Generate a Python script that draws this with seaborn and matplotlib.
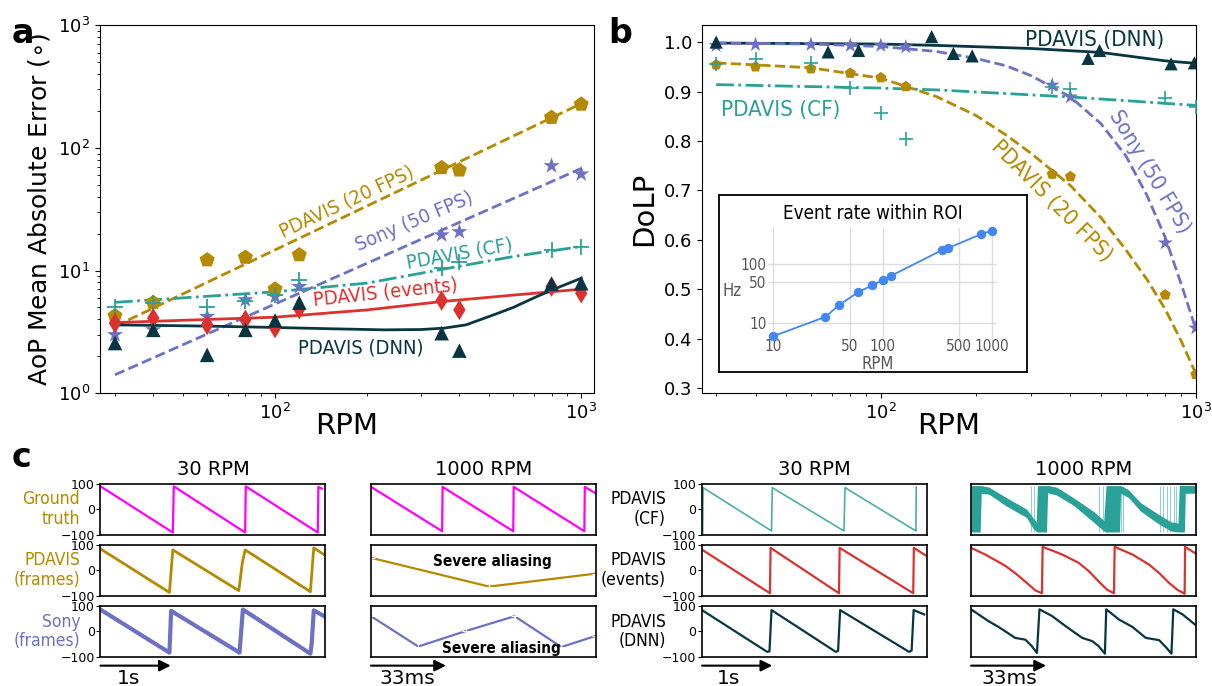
import matplotlib
matplotlib.use("Agg")
import matplotlib.pyplot as plt
from matplotlib.ticker import NullLocator, FixedLocator, FixedFormatter
import seaborn as sns

plt.rcParams['font.family'] = ['DejaVu Sans']

GOLD = "#b58900"
VIOLET = "#6c71c4"
CYAN = "#2aa198"
RED = "#dc322f"
DARK = "#073642"
MAGENTA = "#ff00ff"
BLUE = "#4287f5"

# ---------------- panel a : AoP mean absolute error
rpm = [30, 40, 60, 80, 100, 120, 350, 400, 800, 1000]
aop_frames = [4.27, 5.47, 12.2, 12.8, 7.04, 13.4, 68.9, 65.9, 177, 227]
aop_sony = [2.99, 3.28, 4.21, 5.76, 6.13, 7.39, 19.5, 20.7, 71.5, 61.2]
aop_cf = [5.02, 5.4, 5.08, 5.69, 6.3, 8.38, 10.4, 11.8, 14.7, 15.7]
aop_events = [3.72, 4.09, 3.6, 3.96, 3.39, 4.84, 5.69, 4.77, 7.39, 6.53]
aop_dnn = [2.56, 3.28, 2.05, 3.28, 3.91, 5.47, 3.08, 2.22, 7.78, 7.87]

# fitted curves
fit_a_frames_rpm = [30, 1000]
fit_a_frames = [3.5, 230]
fit_a_sony_rpm = [30, 1000]
fit_a_sony = [1.41, 68]
fit_a_cf_rpm = [30, 100, 200, 350, 600, 1000]
fit_a_cf = [5.5, 6.7, 7.9, 10.2, 13.0, 15.7]
fit_a_ev_rpm = [30, 100, 200, 350, 600, 1000]
fit_a_ev = [3.76, 4.16, 4.77, 5.58, 6.3, 7.04]
fit_a_dnn_rpm = [30, 60, 100, 150, 228, 300, 357, 420, 518, 600, 716, 850, 1000]
fit_a_dnn = [3.6, 3.52, 3.43, 3.35, 3.28, 3.3, 3.39, 3.6, 4.35, 5.0, 6.13, 7.35, 8.65]

# ---------------- panel b : DoLP
dolp_frames = [0.954, 0.95, 0.946, 0.937, 0.928, 0.91, 0.733, 0.728, 0.489, 0.328]
dolp_sony = [0.993, 0.995, 0.995, 0.993, 0.993, 0.99, 0.913, 0.889, 0.594, 0.422]
dolp_cf = [0.956, 0.966, 0.958, 0.908, 0.857, 0.805, 0.91, 0.905, 0.887, 0.869]
dnn_rpm = [30, 68, 85, 145, 170, 195, 455, 495, 835, 990]
dolp_dnn = [1.0, 0.98, 0.983, 1.011, 0.977, 0.972, 0.967, 0.983, 0.956, 0.958]

fit_b_rpm = [30, 60, 100, 150, 200, 250, 300, 400, 500, 600, 700, 800, 900, 1000]
fit_b_sony = [0.998, 0.996, 0.991, 0.981, 0.967, 0.952, 0.932, 0.889, 0.835, 0.77, 0.69, 0.605, 0.51, 0.42]
fit_b_frames = [0.958, 0.948, 0.927, 0.89, 0.852, 0.812, 0.775, 0.71, 0.645, 0.58, 0.52, 0.46, 0.395, 0.33]
fit_b_cf_rpm = [30, 100, 154, 400, 1000]
fit_b_cf = [0.914, 0.907, 0.903, 0.889, 0.872]
fit_b_dnn_rpm = [30, 100, 154, 300, 500, 800, 1000]
fit_b_dnn = [0.998, 0.996, 0.993, 0.987, 0.979, 0.962, 0.957]

# inset : event rate
inset_rpm = [10, 30, 40, 60, 80, 100, 120, 350, 400, 800, 1000]
inset_rate = [5.9, 12.6, 20, 33.3, 43.3, 53.3, 63.2, 173, 188, 324, 370]

# ---------------- panel c : AoP traces (30 RPM in s, 1000 RPM in ms)
gt30_t = [0, 1.029, 1.043, 2.058, 2.067, 3.091, 3.1, 3.149]
gt30_v = [89, -92, 89, -92, 89, -92, 87, 80]
frames30_t = [0, 0.981, 1.029, 1.968, 2.016, 2.058, 2.986, 3.034, 3.2]
frames30_v = [83, -88, 79, -81, 25, 79, -85, 87, 57]
sony30_t = [0, 0.981, 1.005, 1.978, 2.026, 2.986, 3.005, 3.034, 3.2]
sony30_v = [86, -83, 81, -83, 86, -87, -46, 83, 57]

gt1k_t = [0, 31.3, 31.5, 62.6, 62.8, 93.9, 94.1, 99]
gt1k_v = [87, -87, 87, -87, 87, -87, 87, 61]
frames1k_t = [0, 52, 99]
frames1k_v = [48, -65, -14]
sony1k_t = [0, 20.8, 41.8, 63.2, 83.8, 99]
sony1k_v = [60, -59, 2, 60, -61, -17]

cf30_t = [0.01, 0.016, 0.989, 1.0, 2.019, 2.035, 3.043, 3.048]
cf30_v = [-95, 84, -86, 84, -86, 84, -86, 86]
ev30_t = [0, 0.966, 0.976, 1.949, 1.958, 3.005, 3.014, 3.2]
ev30_v = [80, -91, 87, -91, 87, -91, 87, 54]
dnn30_t = [0, 0.928, 0.96, 0.989, 1.904, 1.936, 1.965, 2.947, 2.982, 3.011, 3.162]
dnn30_v = [84, -80, -78, 84, -80, -76, 84, -80, -75, 84, 67]

cf1k_t = [0, 4.0, 4.5, 7.9, 15.5, 24.4, 27.3, 28.7, 29.2, 33.2, 33.7, 37.6, 45.0, 54.0,
          58.4, 59.4, 65.3, 65.8, 69.3, 74.6, 82.0, 87.9, 91.1, 91.6, 93.9, 94.3, 99]
cf1k_hi = [92, 92, 92, 86, 45, 0, -35, -50, 92, 92, 93, 86, 45, -10,
           -45, 92, 92, 92, 76, 25, -18, -50, -55, 93, 93, 93, 93]
cf1k_lo = [-90, -90, 62, 58, 12, -33, -76, -88, -90, -90, 64, 55, 15, -52,
           -86, -90, -90, 62, 45, -8, -55, -86, -90, -90, -90, 62, 62]
cf1k_spikes = [1.0, 3.0, 26.2, 27.7, 56.4, 57.9, 65.8, 66.8, 83.2, 84.6, 86.1, 87.6, 89.1, 90.1]

ev1k_t = [0, 6.2, 15.0, 19.4, 24.6, 28.3, 31.2, 31.5, 40.1, 47.4, 51.9, 56.2, 60.0, 62.9,
          63.2, 71.0, 78.4, 82.8, 87.2, 90.9, 94.0, 94.2, 99]
ev1k_v = [87, 61, 17, -12, -51, -80, -91, 91, 61, 28, -5, -45, -78, -91,
          91, 61, 21, -12, -51, -78, -93, 91, 64]
dnn1k_t = [0, 7.6, 12.1, 19.4, 23.9, 26.8, 29.0, 30.1, 35.6, 41.6, 48.9, 53.4, 56.2, 58.9,
           59.5, 65.1, 71.0, 76.9, 82.8, 85.7, 88.2, 89.0, 93.1, 99]
dnn1k_v = [87, 41, 18, -25, -32, -58, -84, 87, 61, 21, -25, -38, -58, -87,
           87, 47, 18, -25, -34, -61, -87, 87, 67, 24]


def line(ax, x, y, color, lw, **kw):
    sns.lineplot(x=x, y=y, ax=ax, color=color, lw=lw, estimator=None, sort=False, **kw)


def label(ax, x, y, s, color, size, rot=0):
    ax.text(x, y, s, color=color, fontsize=size, rotation=rot, rotation_mode='anchor',
            ha='center', va='center', fontstretch='condensed')


fig = plt.figure(figsize=(12.12, 6.86), dpi=100)

# ======== a
axA = fig.add_axes([0.0825, 0.427, 0.4075, 0.536])
axA.set_xscale('log')
axA.set_yscale('log')
line(axA, fit_a_frames_rpm, fit_a_frames, GOLD, 2, linestyle='--')
line(axA, fit_a_sony_rpm, fit_a_sony, VIOLET, 2, linestyle='--')
line(axA, fit_a_cf_rpm, fit_a_cf, CYAN, 2, linestyle='-.')
line(axA, fit_a_ev_rpm, fit_a_ev, RED, 2)
line(axA, fit_a_dnn_rpm, fit_a_dnn, DARK, 2)
sns.scatterplot(x=rpm, y=aop_frames, ax=axA, marker='p', s=130, color=GOLD, edgecolor='none', zorder=3)
sns.scatterplot(x=rpm, y=aop_sony, ax=axA, marker='*', s=150, color=VIOLET, edgecolor='none', zorder=3)
sns.scatterplot(x=rpm, y=aop_cf, ax=axA, marker='+', s=130, color=CYAN, edgecolor=CYAN, linewidth=1.3, zorder=3)
sns.scatterplot(x=rpm, y=aop_events, ax=axA, marker='d', s=110, color=RED, edgecolor='none', zorder=3)
sns.scatterplot(x=rpm, y=aop_dnn, ax=axA, marker='^', s=110, color=DARK, edgecolor='none', zorder=3)
axA.set_xlim(26.8, 1100)
axA.set_ylim(1, 1000)
axA.tick_params(labelsize=13)
axA.set_xlabel('RPM', fontsize=21, labelpad=-8)
axA.set_ylabel(r'AoP Mean Absolute Error ($\circ$)', fontsize=18)
label(axA, 171, 36.4, 'PDAVIS (20 FPS)', GOLD, 14.5, 25)
label(axA, 284, 25, 'Sony (50 FPS)', VIOLET, 14.5, 23)
label(axA, 399, 13.65, 'PDAVIS (CF)', CYAN, 14.5, 10)
label(axA, 229, 6.63, 'PDAVIS (events)', RED, 14.5, 6)
label(axA, 190, 2.34, 'PDAVIS (DNN)', DARK, 14.5, 0)

# ======== b
axB = fig.add_axes([0.579, 0.427, 0.4076, 0.536])
axB.set_xscale('log')
line(axB, fit_b_dnn_rpm, fit_b_dnn, DARK, 2)
line(axB, fit_b_rpm, fit_b_sony, VIOLET, 2, linestyle='--')
line(axB, fit_b_rpm, fit_b_frames, GOLD, 2, linestyle='--')
line(axB, fit_b_cf_rpm, fit_b_cf, CYAN, 2, linestyle='-.')
sns.scatterplot(x=rpm, y=dolp_frames, ax=axB, marker='p', s=70, color=GOLD, edgecolor='none', zorder=3)
sns.scatterplot(x=rpm, y=dolp_sony, ax=axB, marker='*', s=130, color=VIOLET, edgecolor='none', zorder=3)
sns.scatterplot(x=rpm, y=dolp_cf, ax=axB, marker='+', s=110, color=CYAN, edgecolor=CYAN, linewidth=1.2, zorder=3)
sns.scatterplot(x=dnn_rpm, y=dolp_dnn, ax=axB, marker='^', s=90, color=DARK, edgecolor='none', zorder=3)
axB.set_xlim(27, 1000)
axB.set_ylim(0.2905, 1.0337)
axB.tick_params(labelsize=13)
axB.set_xlabel('RPM', fontsize=21, labelpad=-8)
axB.set_ylabel('DoLP', fontsize=21)
label(axB, 477, 1.005, 'PDAVIS (DNN)', DARK, 16)
label(axB, 48.1, 0.862, 'PDAVIS (CF)', CYAN, 16)
label(axB, 716, 0.738, 'Sony (50 FPS)', VIOLET, 16, -59)
label(axB, 349, 0.679, 'PDAVIS (20 FPS)', GOLD, 16, -45)

# inset
box = fig.add_axes([0.5932, 0.4577, 0.254, 0.258])
box.set_xticks([])
box.set_yticks([])
for s in box.spines.values():
    s.set_linewidth(1.3)
box.text(0.5, 0.895, 'Event rate within ROI', transform=box.transAxes, ha='center', va='center',
         fontsize=13.5, fontstretch='condensed')

ins = fig.add_axes([0.6337, 0.5015, 0.189, 0.166])
ins.set_facecolor('none')
ins.set_xscale('log')
ins.set_yscale('log')
sns.lineplot(x=inset_rpm, y=inset_rate, ax=ins, color=BLUE, lw=1.3, marker='o', markersize=6,
             markeredgecolor=BLUE, estimator=None, sort=False, clip_on=False)
ins.set_xlim(8.94, 1118)
ins.set_ylim(4.7, 410)
ins.xaxis.set_major_locator(FixedLocator([10, 50, 100, 500, 1000]))
ins.xaxis.set_major_formatter(FixedFormatter(['10', '50', '100', '500', '1000']))
ins.yaxis.set_major_locator(FixedLocator([10, 50, 100]))
ins.yaxis.set_major_formatter(FixedFormatter(['10', '50', '100']))
ins.xaxis.set_minor_locator(NullLocator())
ins.yaxis.set_minor_locator(NullLocator())
ins.grid(True, color='#dddddd', lw=1)
ins.tick_params(length=0, labelsize=11, labelcolor='#555555', pad=1)
ins.tick_params(axis='x', pad=-2)
for t in ins.get_xticklabels() + ins.get_yticklabels():
    t.set_fontstretch('condensed')
for s in ins.spines.values():
    s.set_visible(False)
ins.text(-0.155, 0.45, 'Hz', transform=ins.transAxes, ha='center', va='center', fontsize=12,
         color='#555555', fontstretch='condensed')
ins.text(0.48, -0.19, 'RPM', transform=ins.transAxes, ha='center', va='center', fontsize=12,
         color='#555555', fontstretch='condensed')

# ======== c
col_left = [0.0829, 0.3061, 0.5792, 0.8012]
row_bottom = [0.2208, 0.1319, 0.0423]
W, H = 0.1856, 0.0743

axes_c = [[fig.add_axes([col_left[c], row_bottom[r], W, H]) for c in range(4)] for r in range(3)]

# col 0 : 30 RPM, frames
line(axes_c[0][0], gt30_t, gt30_v, MAGENTA, 1.6)
line(axes_c[1][0], frames30_t, frames30_v, GOLD, 2.0)
line(axes_c[2][0], sony30_t, sony30_v, VIOLET, 3.0)
# col 1 : 1000 RPM, frames
line(axes_c[0][1], gt1k_t, gt1k_v, MAGENTA, 1.6)
line(axes_c[1][1], frames1k_t, frames1k_v, GOLD, 1.6, marker='+', markersize=6)
line(axes_c[2][1], sony1k_t, sony1k_v, VIOLET, 1.6, marker='+', markersize=6)
# col 2 : 30 RPM, PDAVIS
line(axes_c[0][2], cf30_t, cf30_v, CYAN, 1.2, alpha=0.85)
line(axes_c[1][2], ev30_t, ev30_v, RED, 1.6)
line(axes_c[2][2], dnn30_t, dnn30_v, DARK, 1.6)
# col 3 : 1000 RPM, PDAVIS
a = axes_c[0][3]
a.fill_between(cf1k_t, cf1k_lo, cf1k_hi, color=CYAN, lw=0)
a.vlines(cf1k_spikes, -90, 92, color=CYAN, lw=0.8, alpha=0.5)
line(axes_c[1][3], ev1k_t, ev1k_v, RED, 1.6)
line(axes_c[2][3], dnn1k_t, dnn1k_v, DARK, 1.6)

for r in range(3):
    for c in range(4):
        ax = axes_c[r][c]
        ax.set_ylim(-100, 100)
        ax.set_xlim(0, 3.2 if c in (0, 2) else 99)
        ax.set_xticks([])
        if c in (0, 2):
            ax.set_yticks([-100, 0, 100])
            ax.tick_params(labelsize=9, length=3, pad=1)
        else:
            ax.set_yticks([])
        for s in ax.spines.values():
            s.set_linewidth(1.2)

for c, t in enumerate(['30 RPM', '1000 RPM', '30 RPM', '1000 RPM']):
    axes_c[0][c].set_title(t, fontsize=14, pad=6)

row_text = [('Ground\ntruth', GOLD), ('PDAVIS\n(frames)', GOLD), ('Sony\n(frames)', VIOLET)]
for r, (s, col) in enumerate(row_text):
    axes_c[r][0].text(-0.09, 0.5, s, transform=axes_c[r][0].transAxes, ha='right', va='center',
                      multialignment='right', color=col, fontsize=12.5, fontstretch='condensed',
                      linespacing=1.1)
for r, s in enumerate(['PDAVIS\n(CF)', 'PDAVIS\n(events)', 'PDAVIS\n(DNN)']):
    axes_c[r][2].text(-0.16, 0.5, s, transform=axes_c[r][2].transAxes, ha='right', va='center',
                      multialignment='right', color='black', fontsize=12.5, fontstretch='condensed',
                      linespacing=1.1)

axes_c[1][1].text(0.54, 0.66, 'Severe aliasing', transform=axes_c[1][1].transAxes, ha='center',
                  va='center', fontsize=11, fontweight='bold', fontstretch='condensed')
axes_c[2][1].text(0.578, 0.17, 'Severe aliasing', transform=axes_c[2][1].transAxes, ha='center',
                  va='center', fontsize=11, fontweight='bold', fontstretch='condensed')

# time scale arrows
scale_len = [1.0, 33, 1.0, 33]
scale_txt = ['1s', '33ms', '1s', '33ms']
scale_txt_x = [0.125, 0.163, 0.118, 0.169]
for c in range(4):
    ax = axes_c[2][c]
    ax.annotate('', xy=(scale_len[c], -0.17), xytext=(0, -0.17), xycoords=ax.get_xaxis_transform(),
                arrowprops=dict(arrowstyle='-|>', color='black', lw=1.5, mutation_scale=17,
                                shrinkA=0, shrinkB=0), annotation_clip=False)
    ax.text(scale_txt_x[c], -0.42, scale_txt[c], transform=ax.transAxes, ha='center', va='center',
            fontsize=14.5)

fig.text(0.0095, 0.9369, 'a', fontsize=24, fontweight='bold', ha='left', va='baseline')
fig.text(0.5015, 0.9369, 'b', fontsize=24, fontweight='bold', ha='left', va='baseline')
fig.text(0.0095, 0.3197, 'c', fontsize=24, fontweight='bold', ha='left', va='baseline')

fig.savefig('out.png', dpi=100)
